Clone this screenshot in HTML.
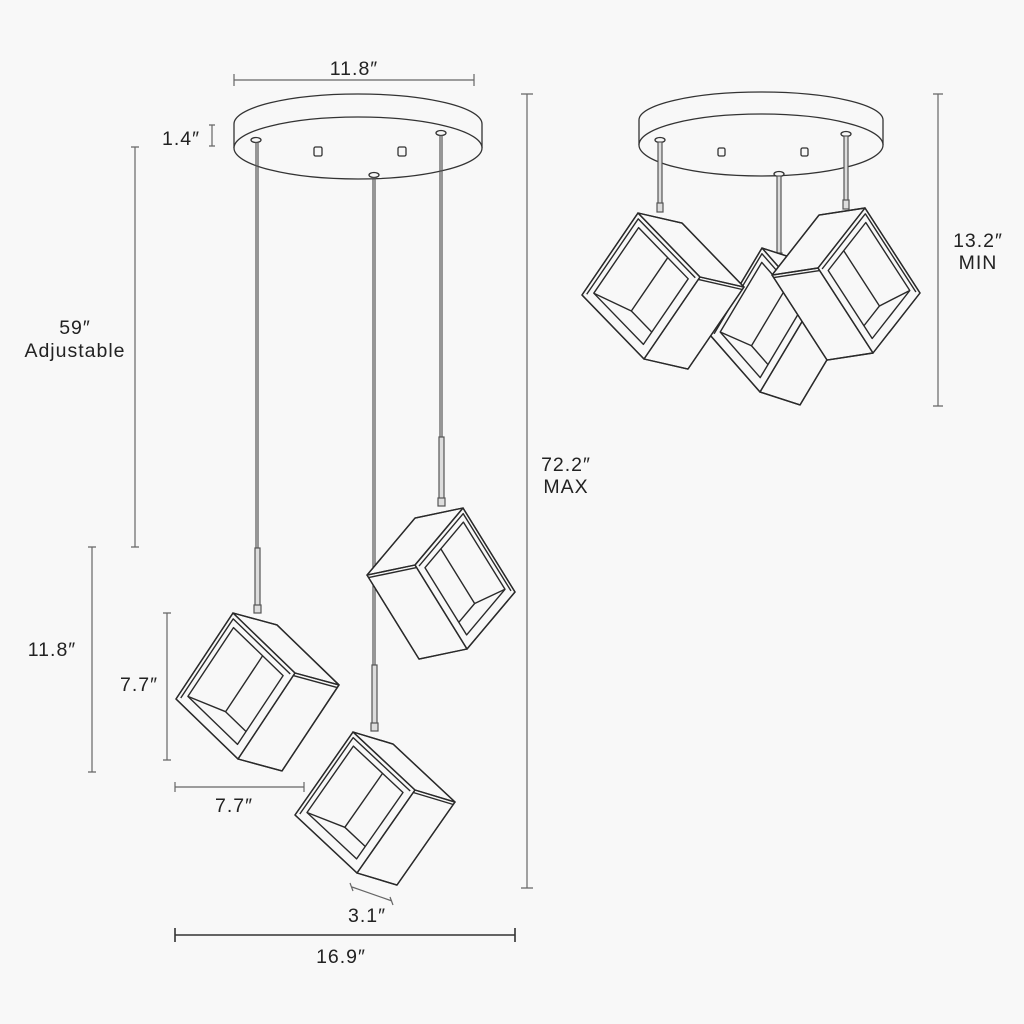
<!DOCTYPE html>
<html><head><meta charset="utf-8"><style>
html,body{margin:0;padding:0;background:#f8f8f8;}
svg{display:block}
text{font-family:"Liberation Sans",sans-serif;font-size:19.5px;fill:#222;letter-spacing:1px}
.d{stroke:#666;stroke-width:1.2;fill:none}
.c *{vector-effect:non-scaling-stroke}
.c polygon,.c polyline,.c line{stroke:#2a2a2a;stroke-width:1.4;fill:none;stroke-linejoin:round}
.c .f{fill:#f8f8f8}
</style></head><body>
<svg width="1024" height="1024" viewBox="0 0 1024 1024" xmlns="http://www.w3.org/2000/svg">
<rect width="1024" height="1024" fill="#f8f8f8"/>

<g stroke="#333" stroke-width="1.3" fill="#f8f8f8">
<path d="M234,148 L234,124 A124,30 0 0 1 482,124 L482,148"/>
<ellipse cx="358" cy="148" rx="124" ry="31"/>
<rect x="314" y="147" width="8" height="9" rx="1.5"/>
<rect x="398" y="147" width="8" height="9" rx="1.5"/>
<ellipse cx="256" cy="140" rx="5" ry="2.5"/>
<ellipse cx="441" cy="133" rx="5" ry="2.5"/>
<ellipse cx="374" cy="175" rx="5" ry="2.5"/>
</g>
<g stroke="#555" stroke-width="1.2" fill="#ddd">
<line x1="256" y1="142" x2="256" y2="548"/><line x1="258" y1="142" x2="258" y2="548"/>
<rect x="255" y="548" width="5" height="60"/>
<rect x="254" y="605" width="7" height="8"/>
<line x1="440" y1="135" x2="440" y2="437"/><line x1="442" y1="135" x2="442" y2="437"/>
<rect x="439" y="437" width="5" height="63"/>
<rect x="438" y="498" width="7" height="8"/>
<line x1="373" y1="177" x2="373" y2="665"/><line x1="375" y1="177" x2="375" y2="665"/>
<rect x="372" y="665" width="5" height="60"/>
<rect x="371" y="723" width="7" height="8"/>
</g>

<g class="c" transform="matrix(62,60,-57,86,233,613)">
<polygon class="f" points="0,0 0.51,-0.217 1.51,-0.217 1.51,0.783 1,1 0,1"/>
<polygon points="0,0 0.51,-0.217 1.51,-0.217 1,0"/>
<polygon points="1,0 1.51,-0.217 1.51,0.783 1,1"/>
<polygon points="0,0 1,0 1,1 0,1"/>
<polyline points="0.04,0.96 0.04,0.04 0.96,0.04"/>
<polygon points="0.1,0.1 0.9,0.1 0.9,0.9 0.1,0.9"/>
<polyline points="0.57,0.1 0.57,0.75 0.9,0.75"/>
<line x1="0.1" y1="0.9" x2="0.57" y2="0.75"/>
<line x1="1" y1="0.03" x2="1.51" y2="-0.187"/>
</g>
<g class="c" transform="matrix(62,58,-58,83,353,732)">
<polygon class="f" points="0,0 0.472,-0.185 1.472,-0.185 1.472,0.815 1,1 0,1"/>
<polygon points="0,0 0.472,-0.185 1.472,-0.185 1,0"/>
<polygon points="1,0 1.472,-0.185 1.472,0.815 1,1"/>
<polygon points="0,0 1,0 1,1 0,1"/>
<polyline points="0.04,0.96 0.04,0.04 0.96,0.04"/>
<polygon points="0.1,0.1 0.9,0.1 0.9,0.9 0.1,0.9"/>
<polyline points="0.57,0.1 0.57,0.75 0.9,0.75"/>
<line x1="0.1" y1="0.9" x2="0.57" y2="0.75"/>
<line x1="1" y1="0.03" x2="1.472" y2="-0.155"/>
</g>
<g class="c" transform="matrix(52,84,-48,57,463,508)">
<polygon class="f" points="0,0 1,0 1,1 0.678,1.651 -0.322,1.651 -0.322,0.651"/>
<polygon points="0,0 0,1 -0.322,1.651 -0.322,0.651"/>
<polygon points="0,1 1,1 0.678,1.651 -0.322,1.651"/>
<polygon points="0,0 1,0 1,1 0,1"/>
<polyline points="0.96,0.04 0.04,0.04 0.04,0.96"/>
<polygon points="0.1,0.1 0.9,0.1 0.9,0.9 0.1,0.9"/>
<polyline points="0.1,0.57 0.75,0.57 0.75,0.9"/>
<line x1="0.9" y1="0.1" x2="0.75" y2="0.57"/>
<line x1="0.03" y1="1" x2="-0.292" y2="1.651"/>
</g>

<g stroke="#333" stroke-width="1.3" fill="#f8f8f8">
<path d="M639,145 L639,120 A122,28 0 0 1 883,120 L883,145"/>
<ellipse cx="761" cy="145" rx="122" ry="31"/>
<rect x="718" y="148" width="7" height="8" rx="1.5"/>
<rect x="801" y="148" width="7" height="8" rx="1.5"/>
<ellipse cx="660" cy="140" rx="5" ry="2.5"/>
<ellipse cx="779" cy="174" rx="5" ry="2.5"/>
<ellipse cx="846" cy="134" rx="5" ry="2.5"/>
</g>
<g stroke="#555" stroke-width="1.2" fill="#ddd">
<rect x="658" y="142" width="4" height="62"/><rect x="657" y="203" width="6" height="9"/>
<rect x="777" y="176" width="4" height="78"/><rect x="776" y="253" width="6" height="9"/>
<rect x="844" y="136" width="4" height="65"/><rect x="843" y="200" width="6" height="9"/>
</g>
<g class="c" transform="matrix(50,57,-52,87,762,248)">
<polygon class="f" points="0,0 0.568,-0.223 1.568,-0.223 1.568,0.777 1,1 0,1"/>
<polygon points="0,0 0.568,-0.223 1.568,-0.223 1,0"/>
<polygon points="1,0 1.568,-0.223 1.568,0.777 1,1"/>
<polygon points="0,0 1,0 1,1 0,1"/>
<polyline points="0.04,0.96 0.04,0.04 0.96,0.04"/>
<polygon points="0.1,0.1 0.9,0.1 0.9,0.9 0.1,0.9"/>
<polyline points="0.57,0.1 0.57,0.75 0.9,0.75"/>
<line x1="0.1" y1="0.9" x2="0.57" y2="0.75"/>
</g>
<g class="c" transform="matrix(62,64,-56,82,638,213)">
<polygon class="f" points="0,0 0.481,-0.253 1.481,-0.253 1.481,0.747 1,1 0,1"/>
<polygon points="0,0 0.481,-0.253 1.481,-0.253 1,0"/>
<polygon points="1,0 1.481,-0.253 1.481,0.747 1,1"/>
<polygon points="0,0 1,0 1,1 0,1"/>
<polyline points="0.04,0.96 0.04,0.04 0.96,0.04"/>
<polygon points="0.1,0.1 0.9,0.1 0.9,0.9 0.1,0.9"/>
<polyline points="0.57,0.1 0.57,0.75 0.9,0.75"/>
<line x1="0.1" y1="0.9" x2="0.57" y2="0.75"/>
<line x1="1" y1="0.03" x2="1.481" y2="-0.223"/>
</g>
<g class="c" transform="matrix(55,85,-47,60,865,208)">
<polygon class="f" points="0,0 1,0 1,1 0.667,1.589 -0.333,1.589 -0.333,0.589"/>
<polygon points="0,0 0,1 -0.333,1.589 -0.333,0.589"/>
<polygon points="0,1 1,1 0.667,1.589 -0.333,1.589"/>
<polygon points="0,0 1,0 1,1 0,1"/>
<polyline points="0.96,0.04 0.04,0.04 0.04,0.96"/>
<polygon points="0.1,0.1 0.9,0.1 0.9,0.9 0.1,0.9"/>
<polyline points="0.1,0.57 0.75,0.57 0.75,0.9"/>
<line x1="0.9" y1="0.1" x2="0.75" y2="0.57"/>
<line x1="0.03" y1="1" x2="-0.303" y2="1.589"/>
</g>

<g class="d">
<path d="M234,80 H474 M234,74 V86 M474,74 V86"/>
<path d="M212,125 V146 M209,125 H215 M209,146 H215"/>
<path d="M135,147 V547 M131,147 H139 M131,547 H139"/>
<path d="M92,547 V772 M88,547 H96 M88,772 H96"/>
<path d="M167,613 V760 M163,613 H171 M163,760 H171"/>
<path d="M175,787 H304 M175,782 V792 M304,782 V792"/>
<path d="M352,887 L392,901 M350,883 L353,891 M390,897 L393,905"/>
<path d="M527,94 V888 M521,94 H533 M521,888 H533"/>
<path d="M938,94 V406 M933,94 H943 M933,406 H943"/>
</g>
<path d="M175,935 H515 M175,928 V942 M515,928 V942" stroke="#333" stroke-width="1.6" fill="none"/>

<g>
<text x="354" y="75" text-anchor="middle">11.8″</text>
<text x="181" y="145" text-anchor="middle">1.4″</text>
<text x="75" y="334" text-anchor="middle">59″</text>
<text x="75" y="357" text-anchor="middle">Adjustable</text>
<text x="52" y="656" text-anchor="middle">11.8″</text>
<text x="139" y="691" text-anchor="middle">7.7″</text>
<text x="234" y="812" text-anchor="middle">7.7″</text>
<text x="367" y="922" text-anchor="middle">3.1″</text>
<text x="341" y="963" text-anchor="middle">16.9″</text>
<text x="566" y="471" text-anchor="middle">72.2″</text>
<text x="566" y="493" text-anchor="middle">MAX</text>
<text x="978" y="247" text-anchor="middle">13.2″</text>
<text x="978" y="269" text-anchor="middle">MIN</text>
</g>
</svg>
</body></html>
